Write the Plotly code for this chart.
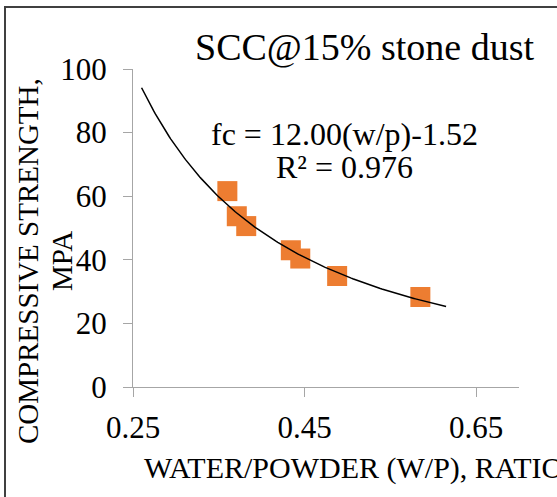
import numpy as np
import plotly.graph_objects as go

# ---- data ----
wp_ratio = [0.360, 0.371, 0.382, 0.434, 0.445, 0.488, 0.585]
strength = [61.6, 53.7, 50.6, 43.0, 40.4, 34.9, 28.3]
x_ticks = [0.25, 0.45, 0.65]
y_ticks = [0, 20, 40, 60, 80, 100]
title_text = "SCC@15% stone dust"
eq_line1 = "fc = 12.00(w/p)-1.52"
eq_line2 = "R² = 0.976"
x_title = "WATER/POWDER (W/P), RATIO"
y_title1 = "COMPRESSIVE STRENGTH,"
y_title2 = "MPA"
trend_span = [0.26, 0.615]

# power trendline fitted to the data (as the spreadsheet does)
b, lna = np.polyfit(np.log(wp_ratio), np.log(strength), 1)
tx = np.linspace(trend_span[0], trend_span[1], 200)
ty = np.exp(lna) * tx ** b

W, H = 557, 497
L, R, T, B = 133, 38, 69, 110
PW, PH = W - L - R, H - T - B


def px(x):
    return (x - L) / PW


def py(y):
    return (H - B - y) / PH


FONT = "Liberation Serif, Times New Roman, serif"
ORANGE = "#ED7D31"
AXIS = "#a6a6a6"

fig = go.Figure()
fig.add_trace(go.Scatter(x=wp_ratio, y=strength, mode="markers",
                         marker=dict(symbol="square", size=20, color=ORANGE,
                                     line=dict(width=0)),
                         showlegend=False, hoverinfo="skip"))
fig.add_trace(go.Scatter(x=tx, y=ty, mode="lines",
                         line=dict(color="black", width=1.5),
                         showlegend=False, hoverinfo="skip"))

fig.update_layout(
    width=W, height=H,
    margin=dict(l=L, r=R, t=T, b=B, pad=0),
    paper_bgcolor="white", plot_bgcolor="white",
    font=dict(family=FONT, color="black", size=31),
    xaxis=dict(range=[0.25, 0.70], tickvals=x_ticks,
               ticktext=[f"{v:.2f}" for v in x_ticks],
               showgrid=False, zeroline=False, showline=True,
               linecolor=AXIS, linewidth=1.3, ticks="outside",
               ticklen=9, tickcolor=AXIS, tickwidth=1.3,
               tickfont=dict(size=31, family=FONT),
               ticklabelstandoff=4),
    yaxis=dict(range=[0, 100], tickvals=y_ticks,
               showgrid=False, zeroline=False, showline=True,
               linecolor=AXIS, linewidth=1.3, ticks="outside",
               ticklen=9, tickcolor=AXIS, tickwidth=1.3,
               tickfont=dict(size=31, family=FONT),
               ticklabelstandoff=10),
)

ann = [
    dict(text=title_text, x=px(364), y=py(47), font=dict(size=38)),
    dict(text=eq_line1, x=px(344), y=py(134), font=dict(size=32)),
    dict(text=eq_line2, x=px(344), y=py(167), font=dict(size=32)),
    dict(text=x_title, x=px(142), y=py(468), xanchor="left", font=dict(size=30)),
    dict(text=y_title1, x=px(28), y=py(261), textangle=-90, font=dict(size=29)),
    dict(text=y_title2, x=px(62), y=py(261), textangle=-90, font=dict(size=29)),
]
for a in ann:
    a.setdefault("xanchor", "center")
    a.update(xref="paper", yref="paper", showarrow=False, yanchor="middle")
    a["font"]["family"] = FONT
    a["font"]["color"] = "black"
    fig.add_annotation(**a)

fig.add_shape(type="rect", xref="paper", yref="paper",
              x0=px(5), x1=px(570), y0=py(7), y1=py(510),
              line=dict(color="#404040", width=2), layer="below")

fig.write_html(
    "out.html",
    config={"displayModeBar": False},
    post_script="document.body.style.margin='0';document.body.style.overflow='hidden';",
)
